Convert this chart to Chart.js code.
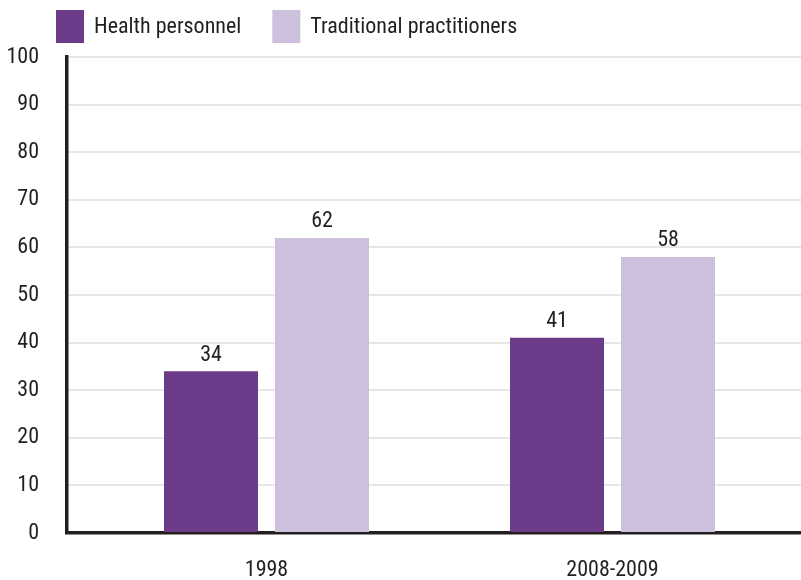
<!DOCTYPE html>
<html lang="en">
<head>
    <meta charset="UTF-8">
    <title>Health personnel vs traditional practitioners</title>
    <script src="https://cdn.jsdelivr.net/npm/chart.js"></script>
    <style>
        body {
            margin: 0;
            background: #ffffff;
        }
        #wrap {
            width: 801px;
            height: 580px;
        }
    </style>
</head>
<body>
    <div id="wrap"><canvas id="chart"></canvas></div>

    <script>
        // Data
        const years = ['1998', '2008-2009'];
        const seriesNames = ['Health personnel', 'Traditional practitioners'];
        const healthPersonnel = [34, 41];
        const traditionalPractitioners = [62, 58];
        const yTicks = [0, 10, 20, 30, 40, 50, 60, 70, 80, 90, 100];

        const FAMILY = 'Roboto, sans-serif';
        const FONT = { family: FAMILY, size: 22, weight: 'condensed' };
        const FONT_CSS = 'condensed 22px ' + FAMILY;
        const TEXT = '#231f20';
        const COLORS = ['#6c3b89', '#cdc0dc'];

        // bar positions on a numeric x axis: category i sits at value i + 1
        const toPoints = vals => vals.map((v, i) => ({ x: i + 1, y: v }));

        // legend drawn on top of the canvas
        const legendPlugin = {
            id: 'topLegend',
            afterDraw(chart) {
                const ctx = chart.ctx;
                ctx.save();
                ctx.font = FONT_CSS;
                ctx.textBaseline = 'middle';
                ctx.textAlign = 'left';
                let x = 56;
                chart.data.datasets.forEach(ds => {
                    ctx.fillStyle = ds.backgroundColor;
                    ctx.fillRect(x, 10, 28, 33);
                    ctx.fillStyle = TEXT;
                    ctx.fillText(ds.label, x + 38, 27);
                    x += 38 + ctx.measureText(ds.label).width + 31;
                });
                ctx.restore();
            }
        };

        // value labels above each bar
        const valueLabels = {
            id: 'valueLabels',
            afterDatasetsDraw(chart) {
                const ctx = chart.ctx;
                ctx.save();
                ctx.font = FONT_CSS;
                ctx.fillStyle = TEXT;
                ctx.textAlign = 'center';
                ctx.textBaseline = 'bottom';
                chart.data.datasets.forEach((ds, di) => {
                    chart.getDatasetMeta(di).data.forEach((bar, i) => {
                        ctx.fillText(String(ds.data[i].y), bar.x, bar.y - 5);
                    });
                });
                ctx.restore();
            }
        };

        const ctx = document.getElementById('chart').getContext('2d');
        new Chart(ctx, {
            type: 'bar',
            data: {
                datasets: [{
                    label: seriesNames[0],
                    data: toPoints(healthPersonnel),
                    backgroundColor: COLORS[0]
                }, {
                    label: seriesNames[1],
                    data: toPoints(traditionalPractitioners),
                    backgroundColor: COLORS[1]
                }]
            },
            options: {
                responsive: true,
                maintainAspectRatio: false,
                animation: false,
                categoryPercentage: 0.6416,
                barPercentage: 0.847,
                layout: { padding: { top: 57, left: 0, right: 0, bottom: 0 } },
                plugins: {
                    legend: { display: false },
                    tooltip: { enabled: false }
                },
                scales: {
                    x: {
                        type: 'linear',
                        offset: false,
                        bounds: 'data',
                        min: 0.4234,
                        max: 2.5448,
                        afterBuildTicks: scale => {
                            scale.ticks = years.map((y, i) => ({ value: i + 1 }));
                        },
                        afterFit: scale => { scale.height = 47; },
                        grid: { display: false, drawTicks: false, offset: false },
                        border: { display: true, color: TEXT, width: 3.5 },
                        ticks: {
                            padding: 24,
                            color: TEXT,
                            font: FONT,
                            callback: v => years[v - 1]
                        }
                    },
                    y: {
                        min: 0,
                        max: 100,
                        afterBuildTicks: scale => {
                            scale.ticks = yTicks.map(v => ({ value: v }));
                        },
                        afterFit: scale => { scale.width = 67; },
                        grid: { color: '#e6e6e6', lineWidth: 2, drawTicks: false },
                        border: { display: true, color: TEXT, width: 3.5 },
                        ticks: {
                            padding: 28,
                            color: TEXT,
                            font: FONT
                        }
                    }
                }
            },
            plugins: [legendPlugin, valueLabels]
        });
    </script>
</body>
</html>
